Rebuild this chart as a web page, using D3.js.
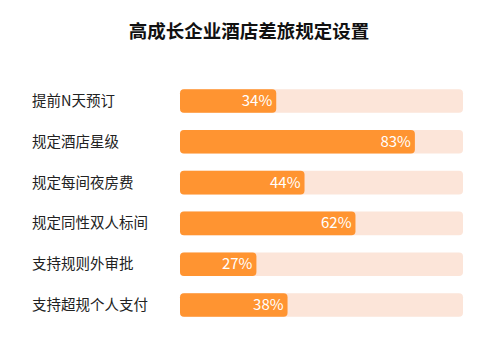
<!DOCTYPE html>
<html><head><meta charset="utf-8">
<script src="https://cdn.jsdelivr.net/npm/d3@7"></script>
<style>body{margin:0;background:#fff;}svg{display:block;}</style>
</head><body>
<script>
const title = "高成长企业酒店差旅规定设置";
const categories = ["提前N天预订","规定酒店星级","规定每间夜房费","规定同性双人标间","支持规则外审批","支持超规个人支付"];
const values = [34, 83, 44, 62, 27, 38];
const maxValue = 100;

const W = 500, H = 362;
const font = "'Noto Sans CJK SC','Noto Sans',sans-serif";
const svg = d3.select("body").append("svg").attr("width", W).attr("height", H);
svg.append("rect").attr("width", W).attr("height", H).attr("fill", "#fff");

svg.append("text").attr("x", 249).attr("y", 33)
  .attr("text-anchor", "middle").attr("dominant-baseline", "middle")
  .attr("font-family", font).attr("font-size", 18.5).attr("font-weight", "bold")
  .attr("fill", "#111").text(title);

const x = d3.scaleLinear().domain([0, maxValue]).range([180, 463]);
const y = d3.scaleBand().domain(categories).range([72, 334]).padding(0.42);

const g = svg.append("g");
const rows = g.selectAll("g.row").data(categories).enter().append("g").attr("class","row");

rows.append("rect")
  .attr("x", x(0)).attr("y", d => y(d))
  .attr("width", x(maxValue) - x(0)).attr("height", y.bandwidth())
  .attr("rx", 4).attr("fill", "#FCE5D9");

rows.append("rect")
  .attr("x", x(0)).attr("y", d => y(d))
  .attr("width", (d,i) => x(values[i]) - x(0)).attr("height", y.bandwidth())
  .attr("rx", 4).attr("fill", "#FF9431");

rows.append("text")
  .attr("x", 32).attr("y", d => y(d) + y.bandwidth()/2 + 1)
  .attr("dominant-baseline", "middle")
  .attr("font-family", font).attr("font-size", 14.5).attr("fill", "#222")
  .text(d => d);

rows.append("text")
  .attr("x", (d,i) => x(values[i]) - 4).attr("y", d => y(d) + y.bandwidth()/2 + 1)
  .attr("text-anchor", "end").attr("dominant-baseline", "middle")
  .attr("font-family", font).attr("font-size", 15).attr("fill", "#fff")
  .text((d,i) => values[i] + "%");
</script>
</body></html>
